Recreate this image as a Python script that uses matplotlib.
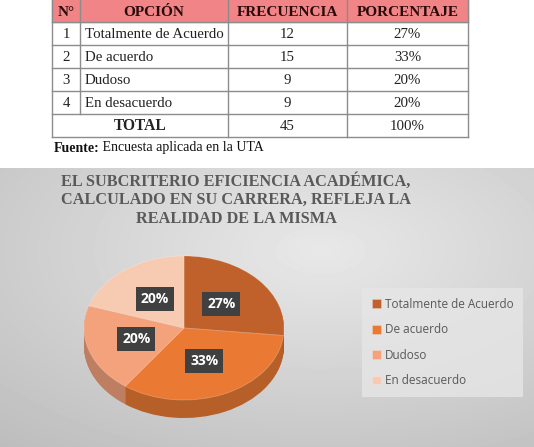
import matplotlib
matplotlib.use('Agg')
from matplotlib import pyplot as plt
import numpy as np

# table data
col_headers = ['N°', 'OPCIÓN', 'FRECUENCIA', 'PORCENTAJE']
numbers = ['1', '2', '3', '4']
options = ['Totalmente de Acuerdo', 'De acuerdo', 'Dudoso', 'En desacuerdo']
frequencies = [12, 15, 9, 9]
percent_labels = ['27%', '33%', '20%', '20%']
total_freq = 45
total_pct = '100%'
source_bold = 'Fuente:'
source_text = ' Encuesta aplicada en la UTA'

# chart data
chart_title = 'EL SUBCRITERIO EFICIENCIA ACADÉMICA,\nCALCULADO EN SU CARRERA, REFLEJA LA\nREALIDAD DE LA MISMA'
slice_colors = ['#C0602A', '#EA7A33', '#F3A27C', '#F7CBB2']

W, H = 534, 447
serif = 'Liberation Serif'
sans = 'Open Sans'
cell_fs = 10.7

fig = plt.figure(figsize=(W / 100, H / 100), dpi=100)
fig.patch.set_facecolor('white')

# full-figure axes in pixel coords
base = fig.add_axes([0, 0, 1, 1])
base.set_xlim(0, W)
base.set_ylim(H, 0)
base.axis('off')

# chart background gradient
chart_top = 168
yy, xx = np.mgrid[chart_top:H, 0:W]
dist = np.sqrt(((xx - 320) / W) ** 2 + ((yy - 250) / (H - chart_top)) ** 2)
shade = 0.91 - 0.17 * dist / dist.max()
base.imshow(shade, cmap='gray', vmin=0, vmax=1, extent=(0, W, H, chart_top),
            aspect='auto', zorder=0)

# table
x_edges = [52, 80, 228, 347, 468]
y_edges = [0, 22, 45, 68, 91, 114, 137]
line_kw = dict(color='#8c8c8c', linewidth=1.0, zorder=3)
base.fill_between([x_edges[0], x_edges[-1]], y_edges[0], y_edges[1],
                  color='#F08486', zorder=1)
for y in y_edges[1:]:
    base.plot([x_edges[0], x_edges[-1]], [y, y], **line_kw)
for i, x in enumerate(x_edges):
    if i == 1:
        base.plot([x, x], [y_edges[0], y_edges[-2]], **line_kw)
    else:
        base.plot([x, x], [y_edges[0], y_edges[-1]], **line_kw)

def cx(i):
    return (x_edges[i] + x_edges[i + 1]) / 2

def cy(j):
    return (y_edges[j] + y_edges[j + 1]) / 2

for i, h in enumerate(col_headers):
    base.text(cx(i), cy(0) + 1, h, ha='center', va='center', family=serif,
              fontweight='bold', fontsize=11, color='#2a0a0a')
for j in range(len(options)):
    yc = cy(j + 1) + 1
    base.text(cx(0), yc, numbers[j], ha='center', va='center', family=serif,
              fontsize=cell_fs, color='#222222')
    base.text(x_edges[1] + 5, yc, options[j], ha='left', va='center', family=serif,
              fontsize=cell_fs, color='#222222')
    base.text(cx(2), yc, str(frequencies[j]), ha='center', va='center', family=serif,
              fontsize=cell_fs, color='#222222')
    base.text(cx(3), yc, percent_labels[j], ha='center', va='center', family=serif,
              fontsize=cell_fs, color='#222222')
yc = cy(5) + 1
base.text((x_edges[0] + x_edges[2]) / 2, yc, 'TOTAL', ha='center', va='center',
          family=serif, fontweight='bold', fontsize=cell_fs + 0.5, color='#222222')
base.text(cx(2), yc, str(total_freq), ha='center', va='center', family=serif,
          fontsize=cell_fs, color='#222222')
base.text(cx(3), yc, total_pct, ha='center', va='center', family=serif,
          fontsize=cell_fs, color='#222222')

t = base.text(54, 148, source_bold, ha='left', va='center', family=serif,
              fontweight='bold', fontsize=10, color='#111111')
fig.canvas.draw()
bb = t.get_window_extent()
base.text(54 + bb.width - 1, 148, source_text, ha='left', va='center', family=serif,
          fontsize=10, color='#111111')

# chart title
base.text(236, 200, chart_title, ha='center', va='center', family=serif,
          fontweight='bold', fontsize=11.7, color='#595959', linespacing=1.22)

# pie axes: radius 100 px horizontally, 72 px vertically
pcx, pcy = 184, 328
rx, ry = 100, 72
ax_l, ax_r = pcx - 1.1 * rx, pcx + 1.1 * rx
ax_t, ax_b = pcy - 1.1 * ry, pcy + 1.5 * ry
ax = fig.add_axes([ax_l / W, 1 - ax_b / H, (ax_r - ax_l) / W, (ax_b - ax_t) / H])
ax.patch.set_alpha(0)

depth = 0.25
side_colors = [tuple(np.array(matplotlib.colors.to_rgb(c)) * 0.78) for c in slice_colors]
for k in np.linspace(depth, 0.01, 25):
    ax.pie(frequencies, colors=side_colors, startangle=90, counterclock=False,
           center=(0, -k), wedgeprops=dict(linewidth=0))

wedges, texts, autotexts = ax.pie(
    frequencies, colors=slice_colors, startangle=90, counterclock=False,
    autopct='%1.0f%%', pctdistance=0.5,
    wedgeprops=dict(linewidth=0.6, edgecolor=(1, 1, 1, 0.25)),
    textprops=dict(color='white', fontweight='bold', fontsize=10, family=sans))
for at in autotexts:
    at.set_bbox(dict(boxstyle='square,pad=0.35', facecolor='#404040', edgecolor='none'))
ax.set_aspect('auto')
ax.set_xlim(-1.1, 1.1)
ax.set_ylim(-1.5, 1.1)
ax.axis('off')

leg = ax.legend(wedges, options, loc='upper left',
                bbox_to_anchor=(366 / W, 1 - 292 / H), bbox_transform=fig.transFigure,
                frameon=True, fontsize=8.5, labelspacing=1.05,
                handlelength=0.75, handleheight=0.75, handletextpad=0.35,
                borderpad=0.5, borderaxespad=0)
leg.get_frame().set_facecolor((0.9, 0.9, 0.9, 0.8))
leg.get_frame().set_edgecolor('none')
leg.get_frame().set_boxstyle('square')
for txt in leg.get_texts():
    txt.set_color('#595959')
    txt.set_family(sans)

fig.savefig('out.png', dpi=100)
